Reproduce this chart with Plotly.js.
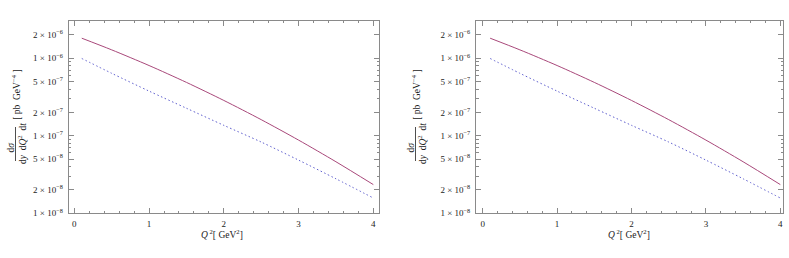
<!DOCTYPE html>
<html>
<head>
<meta charset="utf-8">
<script src="https://cdn.plot.ly/plotly-3.0.1.min.js"></script>
<style>html,body{margin:0;padding:0;background:#fff;}#chart{width:789px;height:258px;}</style>
</head>
<body>
<div id="chart"></div>
<script>
// ---- data ----
const q2 = [0.1, 0.5, 1.0, 1.5, 2.0, 2.5, 3.0, 3.5, 4.0];
const solidSeries = [1.81e-6, 1.28e-6, 8.04e-7, 4.87e-7, 2.85e-7, 1.61e-7, 8.77e-8, 4.61e-8, 2.34e-8];
const dottedSeries = [9.91e-7, 6.38e-7, 3.76e-7, 2.26e-7, 1.36e-7, 8.28e-8, 4.84e-8, 2.78e-8, 1.57e-8];
const xTickVals = [0, 1, 2, 3, 4];
const xTickText = ["0", "1", "2", "3", "4"];
const yTickVals = [1e-8, 2e-8, 5e-8, 1e-7, 2e-7, 5e-7, 1e-6, 2e-6];
const yTickText = ["1 × 10<sup>−8</sup>", "2 × 10<sup>−8</sup>", "5 × 10<sup>−8</sup>",
                   "1 × 10<sup>−7</sup>", "2 × 10<sup>−7</sup>", "5 × 10<sup>−7</sup>",
                   "1 × 10<sup>−6</sup>", "2 × 10<sup>−6</sup>"];
const yMinorVals = [3e-8, 4e-8, 6e-8, 7e-8, 8e-8, 9e-8, 3e-7, 4e-7, 6e-7, 7e-7, 8e-7, 9e-7, 3e-6];

// ---- style ----
const W = 789, H = 258;
const px = v => v / W;
const py = v => 1 - v / H;
const serif = "Liberation Serif, Times New Roman, serif";
const frameCol = "#8a8a8a";
const solidCol = "rgb(168,72,122)";
const dotCol = "rgb(95,95,205)";

function xAxis(domain, range, anchor) {
  return {
    domain: domain, range: range, anchor: anchor,
    showline: true, linecolor: frameCol, linewidth: 1, mirror: "ticks",
    ticks: "inside", ticklen: 5, tickcolor: frameCol, tickwidth: 1,
    tickmode: "array", tickvals: xTickVals, ticktext: xTickText,
    minor: {ticks: "inside", ticklen: 2.5, tickcolor: frameCol, dtick: 0.2, tick0: 0, showgrid: false},
    showgrid: false, zeroline: false,
    tickfont: {family: serif, size: 9, color: "#222"},
    ticklabelstandoff: 2
  };
}
function yAxis(domain, anchor) {
  return {
    domain: domain, type: "log", range: [-8, -5.514], anchor: anchor,
    showline: true, linecolor: frameCol, linewidth: 1, mirror: "ticks",
    ticks: "inside", ticklen: 5, tickcolor: frameCol, tickwidth: 1,
    tickmode: "array", tickvals: yTickVals, ticktext: yTickText,
    minor: {ticks: "inside", ticklen: 2.5, tickcolor: frameCol, tickmode: "array", tickvals: yMinorVals, showgrid: false},
    showgrid: false, zeroline: false,
    tickfont: {family: serif, size: 9, color: "#222"},
    ticklabelstandoff: 3
  };
}

const yDom = [py(213.2), py(20.5)];
const traces = [];
[["x", "y"], ["x2", "y2"]].forEach(([xa, ya]) => {
  traces.push({x: q2, y: solidSeries, xaxis: xa, yaxis: ya, mode: "lines",
    line: {color: solidCol, width: 1, shape: "spline", smoothing: 0.8}, hoverinfo: "skip"});
  traces.push({x: q2, y: dottedSeries, xaxis: xa, yaxis: ya, mode: "lines",
    line: {color: dotCol, width: 1, dash: "1.5px,2.5px", shape: "spline", smoothing: 0.8}, hoverinfo: "skip"});
});

function yTitle(dx) {
  const f = {family: serif, size: 9.5, color: "#222"};
  return [
    {text: "d<i>σ</i>", x: px(10.5 + dx), y: py(148), textangle: -90},
    {text: "d<i>y</i>  d<i>Q</i><sup>2</sup>  d<i>t</i>", x: px(22 + dx), y: py(144), textangle: -90},
    {text: "[ pb  GeV<sup>−4</sup> ]", x: px(15.8 + dx), y: py(95), textangle: -90, font: {family: serif, size: 9.5, color: "#222"}}
  ].map(a => Object.assign({xref: "paper", yref: "paper", showarrow: false,
    xanchor: "center", yanchor: "middle", font: f}, a));
}
function xTitle(cx) {
  return {text: "<i>Q</i><sup> 2</sup>[ GeV<sup>2</sup>]", x: px(cx), y: py(234), xref: "paper", yref: "paper",
    showarrow: false, xanchor: "center", yanchor: "middle", font: {family: serif, size: 9.5, color: "#222"}};
}

const layout = {
  width: W, height: H, margin: {l: 0, r: 0, t: 0, b: 0},
  paper_bgcolor: "#fff", plot_bgcolor: "#fff", showlegend: false,
  xaxis: xAxis([px(68.7), px(379.3)], [-0.075, 4.08], "y"),
  yaxis: yAxis(yDom, "x"),
  xaxis2: xAxis([px(476), px(783)], [-0.09, 4.036], "y2"),
  yaxis2: yAxis(yDom, "x2"),
  annotations: [].concat(yTitle(0), yTitle(400), [xTitle(222), xTitle(629)]),
  shapes: [0, 400].map(dx => ({type: "line", xref: "paper", yref: "paper",
    x0: px(15.5 + dx), x1: px(15.5 + dx), y0: py(127), y1: py(161), line: {color: "#222", width: 0.8}}))
};

Plotly.newPlot("chart", traces, layout, {staticPlot: true, displayModeBar: false});
</script>
</body>
</html>
